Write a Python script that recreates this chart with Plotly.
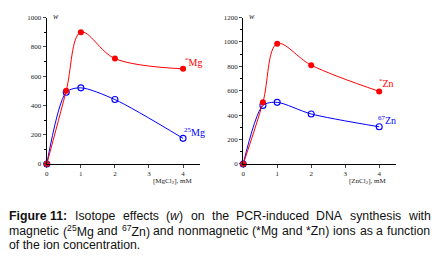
import re
import plotly.graph_objects as go

mg_x = [0, 0.57, 1, 2, 4]
mg_nonmag = [0, 500, 900, 720, 650]
mg_mag = [0, 490, 520, 440, 175]

zn_x = [0, 0.58, 1, 2, 4]
zn_nonmag = [0, 505, 985, 810, 595]
zn_mag = [0, 480, 505, 410, 305]

x_ticks = [0, 1, 2, 3, 4]

RED = "#ff0000"
BLUE = "#0000ff"
SERIF = "Liberation Serif"
W, H = 438, 263

fig = go.Figure()

def add_pair(x, nonmag, mag, xa, ya):
    fig.add_trace(go.Scatter(x=x, y=mag, mode="lines+markers", line=dict(color=BLUE, width=1, shape="spline", smoothing=0.8),
                             marker=dict(symbol="circle-open", size=6, color=BLUE, line=dict(width=1.1)),
                             xaxis=xa, yaxis=ya, cliponaxis=False, showlegend=False))
    fig.add_trace(go.Scatter(x=x, y=nonmag, mode="lines+markers", line=dict(color=RED, width=1, shape="spline", smoothing=1.0),
                             marker=dict(symbol="circle", size=6, color=RED),
                             xaxis=xa, yaxis=ya, cliponaxis=False, showlegend=False))

add_pair(mg_x, mg_nonmag, mg_mag, "x", "y")
add_pair(zn_x, zn_nonmag, zn_mag, "x2", "y2")

tickfont = dict(family=SERIF, size=7, color="#222")
xcommon = dict(range=[0, 4.5], tickvals=x_ticks, ticks="outside", ticklen=3, tickwidth=1, showline=True,
               linecolor="black", linewidth=1.2, showgrid=False, zeroline=False, tickfont=tickfont)
ycommon = dict(ticks="outside", ticklen=3, tickwidth=1, showline=True, linecolor="black", linewidth=1.2,
               showgrid=False, zeroline=False, tickfont=tickfont,
               minor=dict(dtick=100, ticks="outside", ticklen=2, tickwidth=1, tickcolor="black"))

fig.update_layout(
    width=W, height=H, margin=dict(l=0, r=0, t=0, b=0),
    paper_bgcolor="white", plot_bgcolor="white",
    xaxis=dict(domain=[45/W, 199/W], anchor="y", **xcommon),
    yaxis=dict(domain=[1-165/H, 1-14/H], anchor="x", range=[0, 1000], dtick=200, **ycommon),
    xaxis2=dict(domain=[242.3/W, 396/W], anchor="y2", **xcommon),
    yaxis2=dict(domain=[1-165/H, 1-14/H], anchor="x2", range=[0, 1200], dtick=200, **ycommon),
)

ann = []
def lab(x, y, text, color, size=9, xanchor="left", family=SERIF):
    ann.append(dict(xref="paper", yref="paper", x=x/W, y=1-y/H, text=text, showarrow=False,
                    font=dict(family=family, size=size, color=color), xanchor=xanchor, yanchor="middle"))

lab(49, 13, "<i>w</i>", "#222", 8)
lab(246, 13, "<i>w</i>", "#222", 8)
lab(182, 60, "<sup>*</sup>Mg", RED, 10)
lab(181, 132, "<sup>25</sup>Mg", BLUE, 10)
lab(377, 81, "<sup>*</sup>Zn", RED, 10)
lab(376, 120, "<sup>67</sup>Zn", BLUE, 10)
lab(193, 183, "[MgCl<sub>2</sub>], mM", "#222", 7, "right")
lab(388, 183, "[ZnCl<sub>2</sub>], mM", "#222", 7, "right")

# Caption, justified like the reference (Arial metrics, per 1000 em)
AW = {' ': 278, '(': 333, ')': 333, '*': 389, '-': 333, '.': 278, ':': 278, ',': 278,
      'A': 667, 'C': 722, 'D': 722, 'F': 611, 'I': 278, 'M': 833, 'N': 722, 'P': 667, 'R': 722, 'Z': 611,
      'a': 556, 'b': 556, 'c': 500, 'd': 556, 'e': 556, 'f': 278, 'g': 556, 'h': 556, 'i': 222, 'j': 222,
      'k': 500, 'l': 222, 'm': 833, 'n': 556, 'o': 556, 'p': 556, 'q': 556, 'r': 333, 's': 500, 't': 278,
      'u': 556, 'v': 500, 'w': 722, 'x': 500, 'y': 500, 'z': 500}
BW = {'F': 611, 'i': 278, 'g': 611, 'u': 611, 'r': 389, 'e': 556, ' ': 278, ':': 333}

def text_width(html, size):
    total = 0.0
    bold = False
    sup = False
    for part in re.split(r'(<[^>]+>)', html):
        if part.startswith('<'):
            tag = part.strip('<>/').lower()
            closing = part.startswith('</')
            if tag == 'b':
                bold = not closing
            elif tag == 'sup':
                sup = not closing
            continue
        for ch in part:
            if ch.isdigit():
                w = 556
            elif bold:
                w = BW.get(ch, 600)
            else:
                w = AW.get(ch, 556)
            total += w * (0.7 if sup else 1.0)
    return total / 1000 * size

CAP_SIZE = 12.3
cap_font = dict(family="Liberation Sans", size=CAP_SIZE, color="#111")
cap_lines = [
    ["<b>Figure 11:</b>", "Isotope", "effects", "(<i>w</i>)", "on", "the", "PCR-induced", "DNA", "synthesis", "with"],
    ["magnetic", "(<sup>25</sup>Mg", "and", "<sup>67</sup>Zn)", "and", "nonmagnetic", "(*Mg", "and", "*Zn)", "ions", "as", "a", "function"],
]
cap_last = "of the ion concentration."
x0, x1 = 5, 428
for words, yy in zip(cap_lines, [219, 234]):
    widths = [text_width(wd, CAP_SIZE) for wd in words]
    gap = (x1 - x0 - sum(widths)) / (len(words) - 1)
    xx = x0
    for wd, wdt in zip(words, widths):
        ann.append(dict(xref="paper", yref="paper", x=xx/W, y=1-yy/H, text=wd, showarrow=False,
                        font=cap_font, xanchor="left", yanchor="middle"))
        xx += wdt + gap
ann.append(dict(xref="paper", yref="paper", x=x0/W, y=1-249/H, text=cap_last, showarrow=False,
                font=cap_font, xanchor="left", yanchor="middle"))

fig.update_layout(annotations=ann)
fig.write_html("out.html", config={"displayModeBar": False},
               post_script="document.body.style.margin='0';")
